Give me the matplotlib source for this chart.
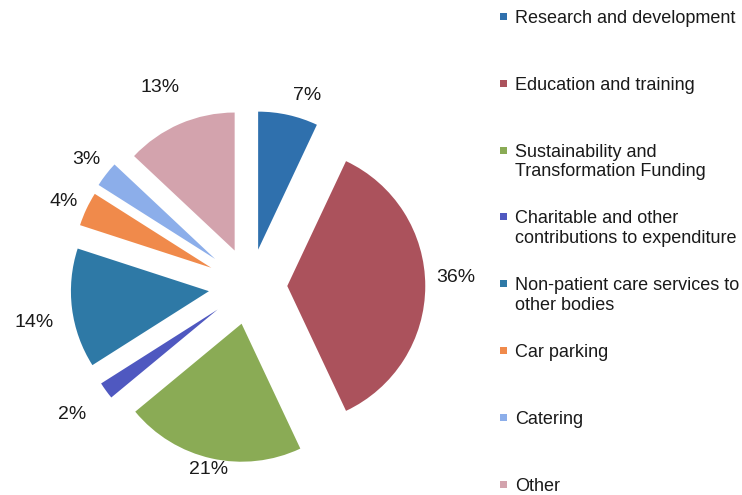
import math
import matplotlib
matplotlib.use("Agg")
import matplotlib.pyplot as plt
from matplotlib.patches import Rectangle

plt.rcParams['font.family'] = ['Liberation Sans', 'DejaVu Sans']

categories = [
    "Research and development",
    "Education and training",
    "Sustainability and\nTransformation Funding",
    "Charitable and other\ncontributions to expenditure",
    "Non-patient care services to\nother bodies",
    "Car parking",
    "Catering",
    "Other",
]
shares = [7, 36, 21, 2, 14, 4, 3, 13]
colors = ["#2f70ad", "#ab525c", "#8aab55", "#4f58c0",
          "#2e79a6", "#f08a4b", "#8caeea", "#d3a3ad"]
explode_frac = [0.27, 0.27, 0.28, 0.29, 0.30, 0.31, 0.32, 0.28]
# label distance (in radii, from each exploded wedge's own centre) and angular nudge
label_dist = [1.17, 1.22, 1.08, 1.30, 1.29, 1.17, 1.18, 1.30]
label_nudge = [-5.0, 3.0, 0.0, 0.0, 3.0, 1.0, 0.0, 1.0]

W, H = 742, 495
fig = plt.figure(figsize=(W / 100, H / 100), dpi=100)
ax = fig.add_axes([0, 0, 1, 1])

radius = 138
center = (250, H - 286)
# pie() takes explode offsets in data units, so scale by the radius
wedges, _, autotexts = ax.pie(
    shares, colors=colors, explode=[e * radius for e in explode_frac],
    startangle=90, counterclock=False, radius=radius, center=center,
    autopct=lambda p: f"{p:.0f}%", pctdistance=1.2,
    textprops=dict(fontsize=14, color="#1a1a1a"),
    wedgeprops=dict(linewidth=0), frame=True)

for w, t, d, nud in zip(wedges, autotexts, label_dist, label_nudge):
    ang = math.radians(0.5 * (w.theta1 + w.theta2) + nud)
    cx, cy = w.center
    t.set_position((cx + d * radius * math.cos(ang),
                    cy + d * radius * math.sin(ang)))

ax.set_xlim(0, W)
ax.set_ylim(0, H)
ax.set_aspect('equal')
ax.axis('off')

# legend column on the right
x_box, x_text = 500, 515
y0, step = 16.5, 66.8
for i, (name, col) in enumerate(zip(categories, colors)):
    y = H - (y0 + i * step)
    ax.add_patch(Rectangle((x_box, y - 3.5), 7, 7, color=col, lw=0))
    ax.text(x_text, y + 6.5, name, fontsize=13, color="#1a1a1a",
            va='top', ha='left', linespacing=1.2)

fig.savefig("out.png", dpi=100, facecolor="white")
